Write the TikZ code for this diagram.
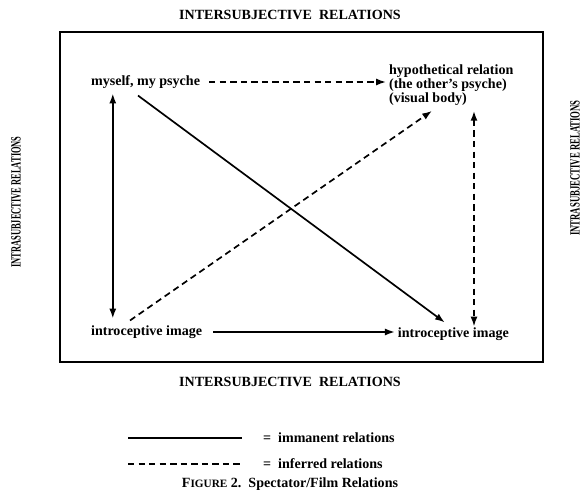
\documentclass[tikz,border=0pt]{standalone}
\usepackage{fontspec}
\setmainfont{Liberation Serif}
\usepackage{graphicx}
\usetikzlibrary{arrows.meta, positioning, calc}

\begin{document}
\begin{tikzpicture}[font=\bfseries\fontsize{10}{9}\selectfont,
    imm/.style={line width=1.2pt},
    inf/.style={line width=1.2pt, dash pattern=on 4.5pt off 3pt},
    tip/.style={-{Latex[length=7pt,width=5pt]}},
    dtip/.style={{Latex[length=7pt,width=5pt]}-{Latex[length=7pt,width=5pt]}},
    lbl/.style={anchor=west, inner sep=2pt},
    side/.style={rotate=90, inner sep=0pt}]
  \useasboundingbox (0,0) rectangle (14.525,12.55);
  \draw[line width=1pt] (1.5,3.5) rectangle (13.575,11.75);

  % headings round the frame
  \node (topT) at (7.25,12.175) {INTERSUBJECTIVE\ \ RELATIONS};
  \node (botT) at (7.25,3.0) {INTERSUBJECTIVE\ \ RELATIONS};
  \node[side] (leftT) at (0.4,7.5) {\scalebox{0.6}[1]{INTRASUBJECTIVE RELATIONS}};
  \node[side] (rightT) at (14.375,8.35) {\scalebox{0.62}[1]{INTRASUBJECTIVE RELATIONS}};

  % the four terms
  \node[lbl] (myself) at (2.2,10.5) {myself, my psyche};
  \node[lbl, align=left] (hyp) at (9.65,10.42)
    {hypothetical relation\\(the other's psyche)\\(visual body)};
  \node[lbl] (introA) at (2.2,4.25) {introceptive image};
  \node[lbl] (introB) at (9.87,4.2) {introceptive image};

  % relations
  \draw[inf, tip] (myself.east) ++(0.15,0) -- (hyp.west |- myself.east);
  \draw[imm, tip] (introA.east) ++(0.2,0) -- (introB.west |- introA.east);
  \draw[imm, dtip] ([xshift=0.62cm,yshift=-0.05cm]myself.south west)
    -- ([xshift=0.62cm,yshift=0.1cm]introA.north west);
  \draw[imm, tip] ([xshift=1.25cm,yshift=-0.1cm]myself.south west)
    -- ([xshift=1.25cm,yshift=0.05cm]introB.north west);
  \draw[inf, tip] ([xshift=1.05cm,yshift=0.05cm]introA.north west)
    -- ([xshift=1.15cm,yshift=-0.05cm]hyp.south west);
  \draw[inf, dtip] ([xshift=2.2cm,yshift=-0.05cm]hyp.south west)
    -- ([xshift=2.2cm,yshift=-0.05cm]hyp.south west |- introB.north);

  % key
  \coordinate (keyA) at (3.2,1.6);
  \coordinate (keyB) at (3.2,0.95);
  \node[lbl] (immT) at (6.5,1.6) {=\ \ immanent relations};
  \node[lbl] (infT) at (6.5,0.95) {=\ \ inferred relations};
  \draw[imm, shorten >=0.45cm] (keyA) -- (immT.west);
  \draw[inf, shorten >=0.45cm] (keyB) -- (infT.west);
  \node (caption) at (7.25,0.45) {F{\fontsize{8}{9}\selectfont IGURE} 2.\ \ Spectator/Film Relations};
\end{tikzpicture}
\end{document}
